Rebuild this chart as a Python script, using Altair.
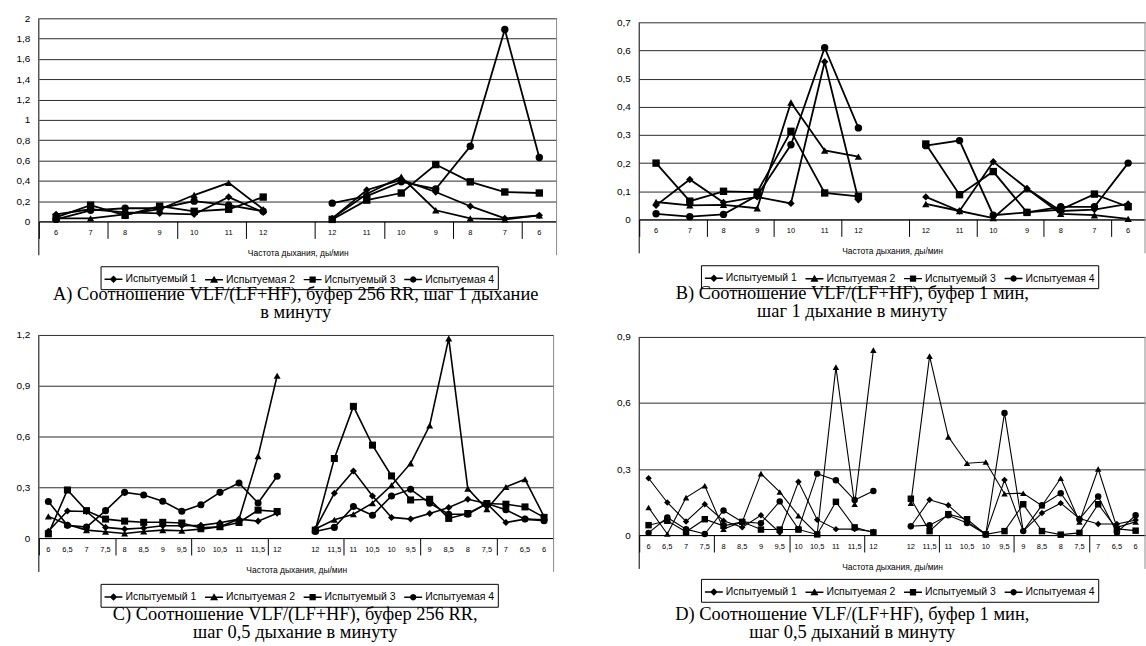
import altair as alt
import pandas as pd

SERIES = ["Испытуемый 1", "Испытуемая 2", "Испытуемый 3", "Испытуемая 4"]
SHAPES = ["diamond", "triangle-up", "square", "circle"]
BAR = "M-1,-0.08L1,-0.08L1,0.08L-1,0.08Z"
LEGEND_SHAPES = [
    BAR + "M-0.42,0L0,-0.42L0.42,0L0,0.42Z",
    BAR + "M-0.45,0.33L0,-0.45L0.45,0.33Z",
    BAR + "M-0.35,-0.35L0.35,-0.35L0.35,0.35L-0.35,0.35Z",
    BAR + "M-0.36,0L-0.31,-0.18L-0.18,-0.31L0,-0.36L0.18,-0.31L0.31,-0.18L0.36,0"
    "L0.31,0.18L0.18,0.31L0,0.36L-0.18,0.31L-0.31,0.18Z",
]

CATS_1 = ["6", "7", "8", "9", "10", "11", "12", "", "12", "11", "10", "9", "8", "7", "6"]
CATS_05 = ["6", "6,5", "7", "7,5", "8", "8,5", "9", "9,5", "10", "10,5", "11", "11,5", "12", "",
           "12", "11,5", "11", "10,5", "10", "9,5", "9", "8,5", "8", "7,5", "7", "6,5", "6"]

# Panel A
A_S1 = [0.07, 0.12, 0.09, 0.08, 0.07, 0.24, 0.09, None, 0.03, 0.31, 0.41, 0.29, 0.15, 0.03, 0.06]
A_S2 = [0.03, 0.03, 0.07, 0.12, 0.26, 0.38, 0.12, None, 0.03, 0.27, 0.44, 0.11, 0.03, 0.02, 0.06]
A_S3 = [0.04, 0.16, 0.06, 0.15, 0.10, 0.12, 0.24, None, 0.02, 0.21, 0.28, 0.56, 0.39, 0.29, 0.28]
A_S4 = [0.02, 0.11, 0.13, 0.13, 0.20, 0.16, 0.10, None, 0.18, 0.25, 0.39, 0.32, 0.74, 1.89, 0.63]

# Panel B
B_S1 = [0.05, 0.142, 0.06, 0.08, 0.057, 0.56, 0.07, None, 0.08, 0.03, 0.205, 0.11, 0.03, 0.035, 0.055]
B_S2 = [0.062, 0.05, 0.052, 0.04, 0.415, 0.245, 0.223, None, 0.055, 0.03, 0.005, 0.11, 0.02, 0.015, 0.002]
B_S3 = [0.20, 0.065, 0.10, 0.097, 0.313, 0.094, 0.082, None, 0.268, 0.088, 0.17, 0.025, 0.035, 0.09, 0.045]
B_S4 = [0.02, 0.01, 0.018, 0.085, 0.265, 0.61, 0.325, None, 0.262, 0.28, 0.015, 0.025, 0.045, 0.045, 0.20]

# Panel C
C_S1 = [0.04, 0.16, 0.157, 0.063, 0.053, 0.059, 0.073, 0.073, 0.075, 0.09, 0.112, 0.10, 0.146, None,
        0.053, 0.265, 0.396, 0.249, 0.122, 0.112, 0.145, 0.18, 0.229, 0.204, 0.092, 0.112, 0.108]
C_S2 = [0.128, 0.08, 0.047, 0.037, 0.027, 0.039, 0.047, 0.043, 0.053, 0.067, 0.112, 0.484, 0.959, None,
        0.053, 0.108, 0.141, 0.206, 0.312, 0.441, 0.665, 1.18, 0.292, 0.171, 0.302, 0.347, 0.127]
C_S3 = [0.025, 0.284, 0.162, 0.112, 0.10, 0.093, 0.093, 0.089, 0.06, 0.067, 0.092, 0.165, 0.157, None,
        0.047, 0.47, 0.778, 0.549, 0.367, 0.225, 0.229, 0.116, 0.145, 0.204, 0.20, 0.184, 0.122]
C_S4 = [0.216, 0.075, 0.065, 0.162, 0.27, 0.254, 0.217, 0.158, 0.197, 0.27, 0.325, 0.207, 0.365, None,
        0.039, 0.063, 0.186, 0.135, 0.249, 0.288, 0.206, 0.141, 0.141, 0.204, 0.167, 0.112, 0.102]

# Panel D
D_S1 = [0.258, 0.148, 0.062, 0.14, 0.065, 0.035, 0.09, 0.012, 0.242, 0.07, 0.027, 0.027, 0.015, None,
        0.04, 0.16, 0.135, 0.06, 0.005, 0.25, 0.018, 0.1, 0.145, 0.075, 0.05, 0.05, 0.068]
D_S2 = [0.125, 0.005, 0.17, 0.224, 0.027, 0.06, 0.279, 0.196, 0.088, 0.005, 0.763, 0.14, 0.84, None,
        0.145, 0.813, 0.446, 0.326, 0.332, 0.188, 0.19, 0.133, 0.258, 0.06, 0.3, 0.035, 0.06]
D_S3 = [0.045, 0.065, 0.015, 0.072, 0.042, 0.06, 0.025, 0.025, 0.025, 0.003, 0.151, 0.035, 0.012, None,
        0.165, 0.018, 0.095, 0.072, 0.003, 0.018, 0.14, 0.018, 0.002, 0.01, 0.14, 0.028, 0.02]
D_S4 = [0.01, 0.08, 0.027, 0.005, 0.112, 0.06, 0.054, 0.153, 0.027, 0.279, 0.249, 0.159, 0.2, None,
        0.04, 0.045, 0.09, 0.055, 0.003, 0.555, 0.018, 0.136, 0.19, 0.072, 0.175, 0.012, 0.09]

Y_TICKS_A = [0, 0.2, 0.4, 0.6, 0.8, 1, 1.2, 1.4, 1.6, 1.8, 2]
Y_TICKS_B = [0, 0.1, 0.2, 0.3, 0.4, 0.5, 0.6, 0.7]
Y_TICKS_C = [0, 0.3, 0.6, 0.9, 1.2]
Y_TICKS_D = [0, 0.3, 0.6, 0.9]

X_TITLE = "Частота дыхания, ды/мин"
CAPTIONS = {
    "A": ["A) Соотношение VLF/(LF+HF), буфер 256 RR, шаг 1 дыхание", "в минуту"],
    "B": ["B) Соотношение VLF/(LF+HF), буфер 1 мин,", "шаг 1 дыхание в минуту"],
    "C": ["C) Соотношение VLF/(LF+HF), буфер 256 RR,", "шаг 0,5 дыхание в минуту"],
    "D": ["D) Соотношение VLF/(LF+HF), буфер 1 мин,", "шаг 0,5 дыханий в минуту"],
}

SANS = "Liberation Sans"
SERIF = "Liberation Serif"


def long_df(cats, series_vals):
    gap = cats.index("")
    rows = []
    for name, vals in zip(SERIES, series_vals):
        for i, v in enumerate(vals):
            if v is None:
                continue
            rows.append({"idx": i, "series": name, "value": v,
                         "seg": name + ("L" if i < gap else "R")})
    return pd.DataFrame(rows)


def panel(cats, series_vals, ticks, dom_max, w, h, top_px, lw, msize, caption, cap_dx, cap_off, leg_y):
    n = len(cats)
    df = long_df(cats, series_vals)
    cat_df = pd.DataFrame({"idx": list(range(n)), "label": cats})
    one = pd.DataFrame({"k": [0]})
    bounds = [i - 0.5 for i in range(n + 1)]
    x = alt.X("idx:Q",
              scale=alt.Scale(domain=[-0.5, n - 0.5], nice=False, zero=False),
              axis=alt.Axis(title=X_TITLE, values=bounds, labels=False, tickSize=17,
                            tickColor="black", tickWidth=1, domainColor="black", domainWidth=1,
                            grid=False, titleFont=SANS, titleFontSize=8.5,
                            titleFontWeight="normal", titleColor="black", titlePadding=10))
    y = alt.Y("value:Q",
              scale=alt.Scale(domain=[0, dom_max], nice=False, zero=True),
              axis=alt.Axis(title=None, values=ticks,
                            labelExpr="replace(format(datum.value, '~g'), '.', ',')",
                            grid=True, gridColor="#2a2a2a", gridWidth=1, domain=False, ticks=False,
                            labelPadding=9, labelFontSize=10, labelFont=SANS, labelColor="black"))
    base = alt.Chart(df).encode(x=x, y=y)
    lines = base.mark_line(color="black", strokeWidth=lw).encode(detail="seg:N")
    pts = base.mark_point(filled=True, color="black", size=msize, opacity=1).encode(
        shape=alt.Shape("series:N", scale=alt.Scale(domain=SERIES, range=SHAPES), legend=None))
    leg = base.transform_filter("datum.value < 0").mark_point(
        filled=True, color="black", opacity=1).encode(
        shape=alt.Shape("series:N", scale=alt.Scale(domain=SERIES, range=LEGEND_SHAPES),
                        legend=alt.Legend(orient="none", legendX=62, legendY=leg_y,
                                          direction="horizontal", columns=4, title=None,
                                          strokeColor="black", fillColor="white", padding=3,
                                          labelFont=SANS, labelFontSize=10.5, labelColor="black",
                                          labelOffset=2, columnPadding=5, symbolSize=324,
                                          symbolFillColor="black")))
    labels = alt.Chart(cat_df).mark_text(font=SANS, fontSize=7.5, color="black",
                                         baseline="middle", align="center").encode(
        x=alt.X("idx:Q"), y=alt.value(h + 12), text="label:N")
    left = alt.Chart(one).mark_rule(color="black", strokeWidth=1).encode(
        x=alt.value(0), y=alt.value(top_px), y2=alt.value(h + 34))
    right = alt.Chart(one).mark_rule(color="#8a8a8a", strokeWidth=1).encode(
        x=alt.value(w), y=alt.value(top_px), y2=alt.value(h + 34))
    return alt.layer(lines, pts, leg, labels, left, right).properties(
        width=w, height=h,
        title=alt.TitleParams(text=caption, orient="bottom", anchor="middle", frame="group",
                              font=SERIF, fontSize=18.5, fontWeight="normal", color="black",
                              lineHeight=18, offset=cap_off, dx=cap_dx)
    ).resolve_scale(shape="independent")


pA = panel(CATS_1, [A_S1, A_S2, A_S3, A_S4], Y_TICKS_A, 2.0, 520, 204, 0, 1.8, 55,
           CAPTIONS["A"], -2, -5, 249)
pB = panel(CATS_1, [B_S1, B_S2, B_S3, B_S4], Y_TICKS_B, 0.7 * 202 / 198, 508, 202, 4, 1.8, 55,
           CAPTIONS["B"], -40, -5, 248)
pC = panel(CATS_05, [C_S1, C_S2, C_S3, C_S4], Y_TICKS_C, 1.2, 517, 204, 0, 1.6, 50,
           CAPTIONS["C"], -1, -2, 250)
pD = panel(CATS_05, [D_S1, D_S2, D_S3, D_S4], Y_TICKS_D, 0.9 * 201 / 199, 508, 201, 2, 1.1, 42,
           CAPTIONS["D"], -40, 3, 245)

chart = alt.concat(pA, pB, pC, pD, columns=2, spacing={"row": 114, "column": 83}, bounds="flush").properties(
    padding={"left": 15, "top": 11, "right": 0, "bottom": 0},
    background="white",
).configure_view(stroke="transparent")

chart.save("out.html", embed_options={"renderer": "svg", "actions": False})
